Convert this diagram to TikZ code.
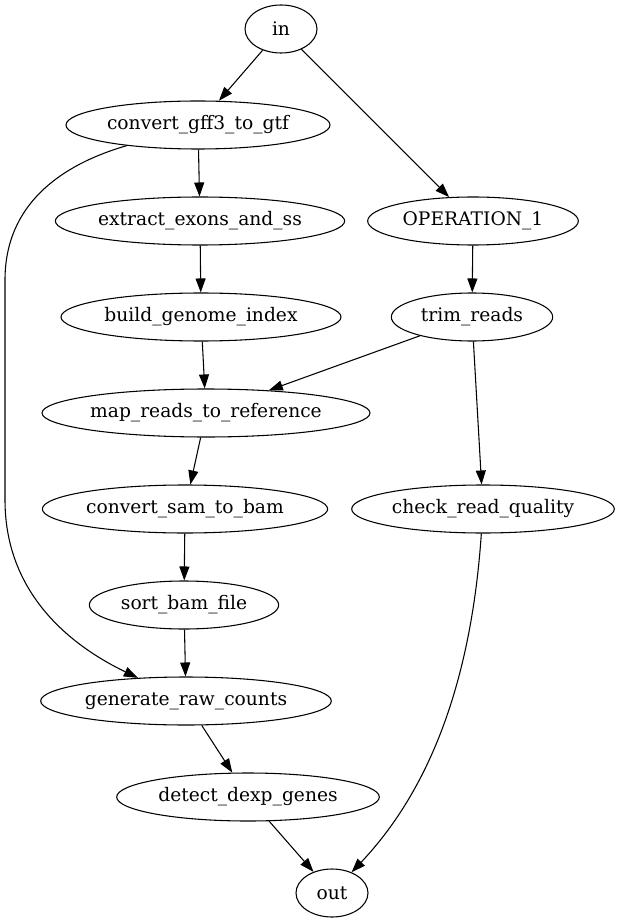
\documentclass[tikz,border=0pt]{standalone}
\usepackage{fontspec}
\setmainfont{DejaVu Serif}
\usetikzlibrary{shapes.geometric,arrows.meta}
\begin{document}
\begin{tikzpicture}[x=0.75pt,y=-0.75pt,
  task/.style={draw,ellipse,line width=0.8pt,inner sep=0pt,
    minimum height=36pt,font=\fontsize{14pt}{16pt}\selectfont},
  edge/.style={draw,line width=0.8pt,-{Triangle[length=10.5pt,width=7.5pt]}}]
\useasboundingbox (0,0) rectangle (621,923);
% nodes, one rank every 96 units
\node[task,minimum width=54pt]  (in)   at (281,29)  {in};
\node[task,minimum width=198pt] (cg)   at (198,125) {convert\_gff3\_to\_gtf};
\node[task,minimum width=158pt] (op)   at (473,221) {OPERATION\_1};
\node[task,minimum width=217pt] (ex)   at (200,221) {extract\_exons\_and\_ss};
\node[task,minimum width=210pt] (bg)   at (201,317) {build\_genome\_index};
\node[task,minimum width=121pt] (tr)   at (472,317) {trim\_reads};
\node[task,minimum width=246pt] (mr)   at (206,413) {map\_reads\_to\_reference};
\node[task,minimum width=214pt] (cs)   at (185,509) {convert\_sam\_to\_bam};
\node[task,minimum width=197pt] (cq)   at (483,509) {check\_read\_quality};
\node[task,minimum width=142pt] (sb)   at (184,605) {sort\_bam\_file};
\node[task,minimum width=218pt] (gc)   at (186,701) {generate\_raw\_counts};
\node[task,minimum width=197pt] (dd)   at (248,797) {detect\_dexp\_genes};
\node[task,minimum width=54pt]  (out)  at (332,893) {out};
% connectors
\path[edge] (in) -- (cg);
\path[edge] (in) -- (op);
\path[edge] (cg) -- (ex);
\path[edge] (ex) -- (bg);
\path[edge] (op) -- (tr);
\path[edge] (bg) -- (mr);
\path[edge] (tr) -- (mr);
\path[edge] (tr) -- (cq);
\path[edge] (mr) -- (cs);
\path[edge] (cs) -- (sb);
\path[edge] (sb) -- (gc);
\path[edge] (gc) -- (dd);
\path[edge] (dd) -- (out);
\path[edge] (cg) .. controls (60,165) and (5,205) .. (5,280)
  -- (5,500) .. controls (5,600) and (80,650) .. (gc);
\path[edge] (cq) .. controls (470,700) and (420,800) .. (out);
\end{tikzpicture}
\end{document}
